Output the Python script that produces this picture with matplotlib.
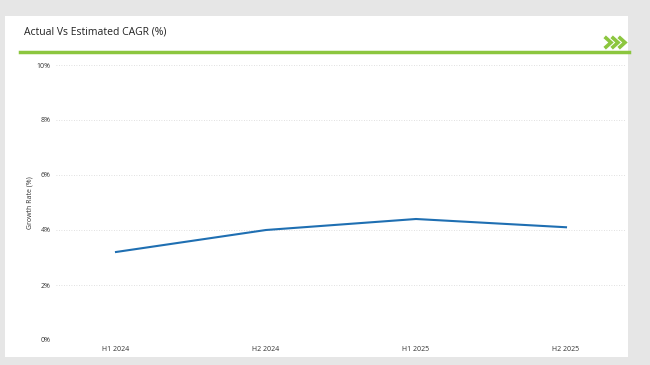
import matplotlib
matplotlib.use("Agg")
import matplotlib.pyplot as plt
from matplotlib.lines import Line2D

categories = ["H1 2024", "H2 2024", "H1 2025", "H2 2025"]
growth = [3.2, 4.0, 4.4, 4.1]
yticks = [0, 2, 4, 6, 8, 10]
ytick_labels = ["0%", "2%", "4%", "6%", "8%", "10%"]

W, H = 650, 365
fig = plt.figure(figsize=(W / 100, H / 100), dpi=100)
fig.patch.set_facecolor("#e6e6e6")
plt.rcParams["font.family"] = ["Open Sans", "DejaVu Sans"]

def fx(px):
    return px / W

def fy(py):
    return 1 - py / H

# white panel
bg = fig.add_axes([fx(5), fy(357), fx(628) - fx(5), fy(16) - fy(357)])
bg.set_zorder(0)
bg.set_facecolor("white")
bg.set_xticks([])
bg.set_yticks([])
for s in bg.spines.values():
    s.set_visible(False)

# title
fig.text(fx(24), fy(32), "Actual Vs Estimated CAGR (%)", fontsize=7.5,
         color="#222222", va="center", ha="left", zorder=5)
# green rule
fig.add_artist(Line2D([fx(20), fx(629)], [fy(52), fy(52)], color="#8cc63f",
                      linewidth=2.5, transform=fig.transFigure, zorder=5))
# chevrons
for i in range(3):
    x0 = 606 + i * 7
    fig.add_artist(Line2D([fx(x0), fx(x0 + 5), fx(x0)],
                          [fy(38), fy(42.5), fy(47)], color="#8cc63f",
                          linewidth=2.6, transform=fig.transFigure,
                          solid_joinstyle="miter", zorder=5))

ax = fig.add_axes([fx(56), fy(340), fx(626) - fx(56), fy(65) - fy(340)])
ax.set_zorder(2)
ax.patch.set_alpha(0)
x = list(range(len(categories)))
ax.plot(x, growth, color="#1f6fb2", linewidth=1.5, zorder=3)
ax.set_xlim(-0.4, 3.4)
ax.set_ylim(0, 10)
ax.set_xticks(x)
ax.set_xticklabels(categories, fontsize=5, color="#333333")
ax.set_yticks(yticks)
ax.set_yticklabels(ytick_labels, fontsize=5, color="#333333")
ax.tick_params(length=0, pad=4)
ax.grid(axis="y", linestyle=(0, (1, 2)), color="#d6d6d6", linewidth=0.6)
for s in ax.spines.values():
    s.set_visible(False)
ax.set_ylabel("Growth Rate (%)", fontsize=5, color="#333333", labelpad=2)

fig.savefig("out.png", dpi=100, facecolor=fig.get_facecolor())
